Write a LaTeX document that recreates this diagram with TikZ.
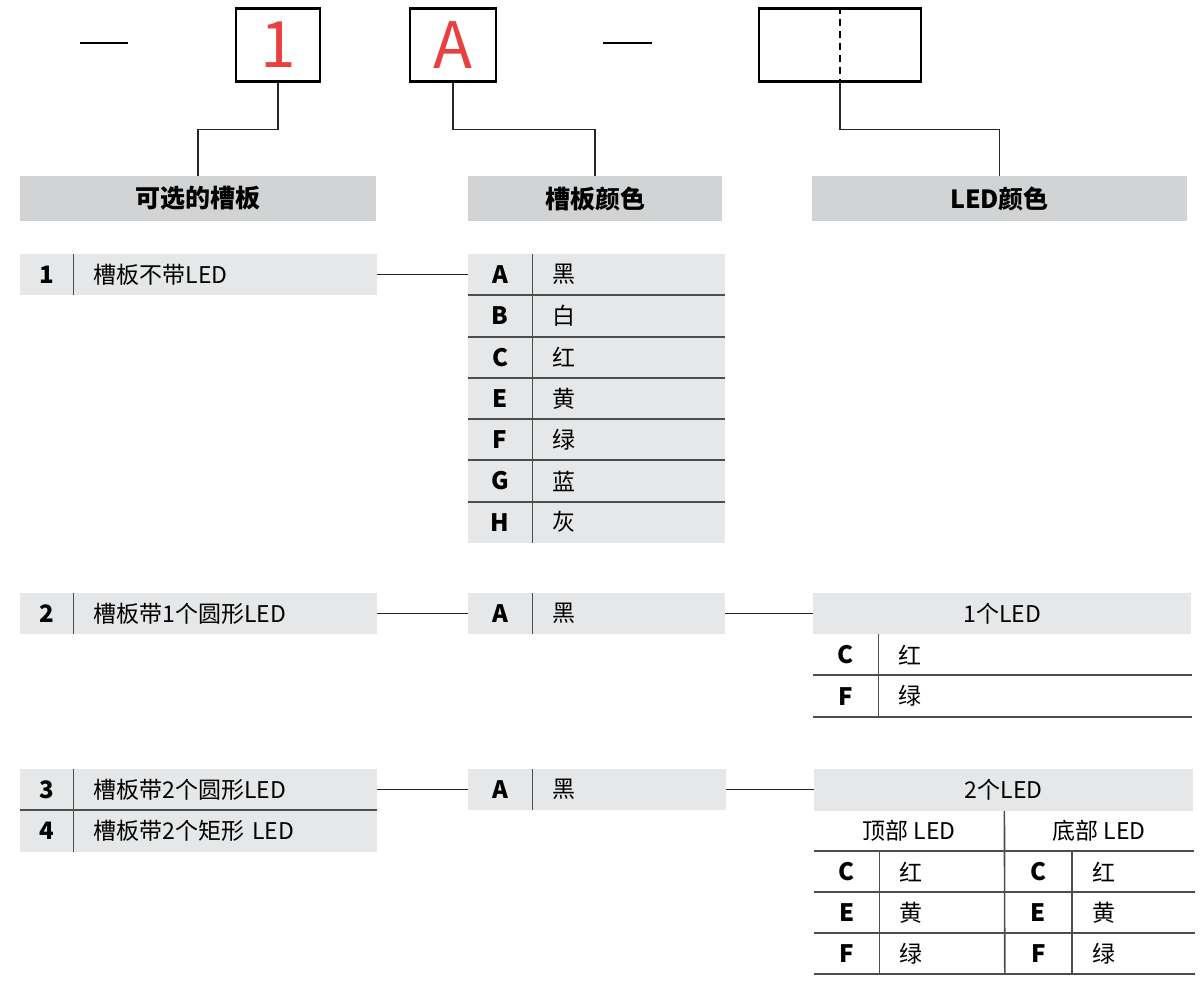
\documentclass[tikz,border=0pt]{standalone}
\usepackage{fontspec}
\setmainfont{Noto Sans CJK SC}
\usepackage{tikz}
\usetikzlibrary{positioning,calc}
\definecolor{headgray}{RGB}{209,211,212}
\definecolor{cellgray}{RGB}{230,231,232}
\definecolor{rulegray}{RGB}{77,77,77}
\definecolor{codered}{RGB}{235,64,64}
\newcommand\rowfont{\fontsize{23}{26}\selectfont}
\newcommand\keyfont{\fontsize{24}{26}\selectfont\bfseries}
\newcommand\bigfont{\fontsize{64}{70}\selectfont}

\begin{document}
\begin{tikzpicture}[
    x=1pt, y=-1pt,
    codebox/.style={draw, line width=2.5pt, minimum height=73pt, inner sep=0pt, text=codered, font=\bigfont},
    header/.style={fill=headgray, minimum height=45pt, inner sep=0pt, font=\fontsize{25}{28}\selectfont\bfseries},
    keycell/.style={minimum width=#1, minimum height=41pt, inner sep=0pt, font=\keyfont},
    valcell/.style={text width=#1, minimum height=41pt, inner xsep=20pt, inner ysep=0pt, align=left, font=\rowfont},
    shaded/.style={fill=cellgray},
    link/.style={draw=black!85, line width=1.3pt},
    rule/.style={draw=rulegray, line width=2pt},
    sep/.style={draw=rulegray, line width=1.6pt},
    node distance=0pt
]
\useasboundingbox (0,0) rectangle (1204,988);

% Code boxes
\draw[line width=2pt] (80,43) -- (128,43);
\node[codebox, minimum width=84pt] (code1) at (278,45) {1};
\node[codebox, minimum width=86pt] (codeA) at (453,45) {A};
\draw[line width=2pt] (603,43) -- (652,43);
\node[codebox, minimum width=162pt] (codeL) at (840,45) {};
\draw[dash pattern=on 7pt off 5pt, line width=1.3pt] (codeL.north) -- (codeL.south);

% Headers
\node[header, minimum width=356pt] (head1) at (198,198.5) {可选的槽板};
\node[header, minimum width=254pt] (head2) at (595,198.5) {槽板颜色};
\node[header, minimum width=375pt] (head3) at (999.5,198.5) {LED颜色};

\draw[link] (code1.south) -- ++(0,47) -| (head1.north);
\draw[link] (codeA.south) -- ++(0,47) -| (head2.north);
\draw[link] (codeL.south) -- ++(0,47) -| (head3.north);

% Option 1
\node[keycell=53pt, shaded, anchor=north west] (opt1k) at (20,254) {1};
\node[valcell=263pt, shaded, right=of opt1k] (opt1v) {槽板不带LED};
\draw[sep] (opt1k.north east) -- (opt1k.south east);

% Colours for option 1
\foreach \k/\v [count=\i] in {A/黑,B/白,C/红,E/黄,F/绿,G/蓝,H/灰} {
    \node[keycell=64pt, shaded, anchor=north west] (col\i k) at (468,{254+41.25*(\i-1)}) {\k};
    \node[valcell=152pt, shaded, right=of col\i k] (col\i v) {\v};
}
\foreach \i in {1,...,6} {
    \draw[rule] (col\i k.south west) -- (col\i v.south east);
}
\draw[sep] (col1k.north east) -- (col7k.south east);
\draw[link] (opt1v.east) -- (col1k.west);

% Option 2
\node[keycell=53pt, shaded, anchor=north west] (opt2k) at (20,593) {2};
\node[valcell=263pt, shaded, right=of opt2k] (opt2v) {槽板带1个圆形LED};
\draw[sep] (opt2k.north east) -- (opt2k.south east);

\node[keycell=64pt, shaded, anchor=north west] (colBk) at (468,593) {A};
\node[valcell=152pt, shaded, right=of colBk] (colBv) {黑};
\draw[sep] (colBk.north east) -- (colBk.south east);
\draw[link] (opt2v.east) -- (colBk.west);

% One LED
\node[shaded, minimum width=378pt, minimum height=41pt, inner sep=0pt, anchor=north west, font=\rowfont] (one) at (813,593) {1个LED};
\draw[link] (colBv.east) -- (colBv.east -| one.west);
\foreach \k/\v [count=\i] in {C/红,F/绿} {
    \node[keycell=65pt, anchor=north west] (one\i k) at (813,{634+41.5*(\i-1)}) {\k};
    \node[valcell=273pt, right=of one\i k] (one\i v) {\v};
    \draw[rule] (one\i k.south west) -- (one\i v.south east);
}
\draw[sep] (one1k.north east) -- (one2k.south east);

% Options 3 and 4
\node[keycell=53pt, shaded, anchor=north west] (opt3k) at (20,769) {3};
\node[valcell=263pt, shaded, right=of opt3k] (opt3v) {槽板带2个圆形LED};
\node[keycell=53pt, shaded, below=of opt3k] (opt4k) {4};
\node[valcell=263pt, shaded, right=of opt4k] (opt4v) {槽板带2个矩形 LED};
\draw[rule] (opt3k.south west) -- (opt3v.south east);
\draw[sep] (opt3k.north east) -- (opt4k.south east);

\node[keycell=64pt, shaded, anchor=north west] (colCk) at (468,769) {A};
\node[valcell=153pt, shaded, right=of colCk] (colCv) {黑};
\draw[sep] (colCk.north east) -- (colCk.south east);
\draw[link] (opt3v.east) -- (colCk.west);

% Two LEDs
\node[shaded, minimum width=379pt, minimum height=42pt, inner sep=0pt, anchor=north west, font=\rowfont] (two) at (814,769) {2个LED};
\draw[link] (colCv.east) -- (colCv.east -| two.west);
\node[minimum width=190pt, minimum height=40pt, inner sep=0pt, anchor=north west, font=\rowfont] (top) at (814,811) {顶部 LED};
\node[minimum width=189pt, minimum height=40pt, inner sep=0pt, right=of top, font=\rowfont] (bottom) {底部 LED};
\foreach \k/\v [count=\i] in {C/红,E/黄,F/绿} {
    \node[keycell=65pt, anchor=north west] (top\i k) at (814,{851+41*(\i-1)}) {\k};
    \node[valcell=85pt, right=of top\i k] (top\i v) {\v};
    \node[keycell=67pt, right=of top\i v] (bot\i k) {\k};
    \node[valcell=82pt, right=of bot\i k] (bot\i v) {\v};
    \draw[rule] (top\i k.south west) -- (bot\i v.south east);
}
\draw[rule] (top.south west) -- (bottom.south east);
\draw[sep] (top.north east) -- (top3v.south east);
\draw[sep] (top1k.north east) -- (top3k.south east);
\draw[sep] (bot1k.north east) -- (bot3k.south east);

\end{tikzpicture}
\end{document}
